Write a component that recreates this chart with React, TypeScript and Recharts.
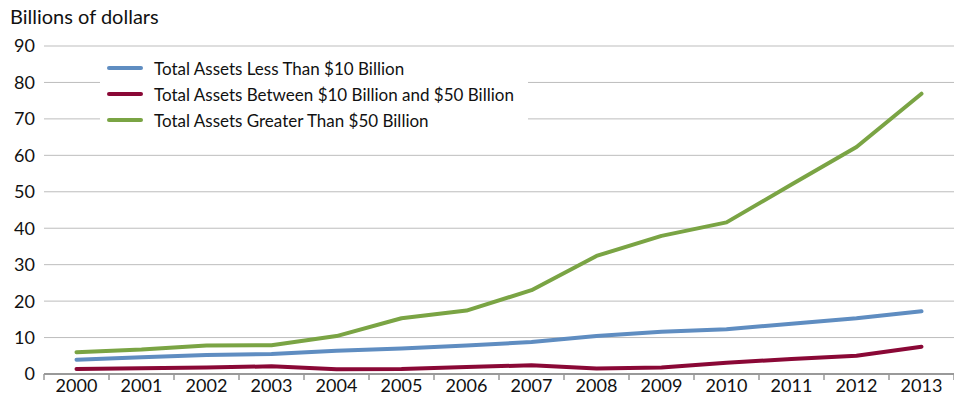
import { CartesianGrid, Line, LineChart, XAxis, YAxis } from 'recharts';

const YEARS = ['2000', '2001', '2002', '2003', '2004', '2005', '2006', '2007', '2008', '2009', '2010', '2011', '2012', '2013'];
const LESS_THAN_10 = [3.9, 4.6, 5.2, 5.5, 6.4, 7.0, 7.8, 8.8, 10.4, 11.6, 12.3, 13.8, 15.3, 17.2];
const BETWEEN_10_50 = [1.4, 1.6, 1.8, 2.1, 1.3, 1.4, 1.9, 2.4, 1.5, 1.8, 3.1, 4.1, 5.0, 7.5];
const GREATER_50 = [6.0, 6.7, 7.8, 7.9, 10.4, 15.3, 17.4, 23.0, 32.4, 37.9, 41.6, 52.0, 62.3, 76.9];
const Y_TICKS = [0, 10, 20, 30, 40, 50, 60, 70, 80, 90];

const SERIES = [
  { key: 'less', name: 'Total Assets Less Than $10 Billion', color: '#5f8dc1' },
  { key: 'between', name: 'Total Assets Between $10 Billion and $50 Billion', color: '#8a0836' },
  { key: 'greater', name: 'Total Assets Greater Than $50 Billion', color: '#7aa444' },
];

const rows = YEARS.map((year, i) => ({
  year,
  less: LESS_THAN_10[i],
  between: BETWEEN_10_50[i],
  greater: GREATER_50[i],
}));

const FONT = 'Lato, "Open Sans", sans-serif';
const HALF_STEP = 32.5;

function YearTick(props: any) {
  const { x, y, payload, index } = props;
  const last = index === YEARS.length - 1;
  return (
    <g>
      <line x1={x - HALF_STEP} y1={y} x2={x - HALF_STEP} y2={y + 6} stroke="#999" strokeWidth={1.5} />
      {last && <line x1={x + HALF_STEP} y1={y} x2={x + HALF_STEP} y2={y + 6} stroke="#999" strokeWidth={1.5} />}
      <text x={x} y={y + 18} textAnchor="middle" fill="#111" fontSize={18} fontFamily={FONT}>
        {payload.value}
      </text>
    </g>
  );
}

function LegendBox() {
  return (
    <div
      style={{
        position: 'absolute',
        left: 100,
        top: 55,
        background: '#fff',
        padding: '0 14px 0 7px',
        fontFamily: FONT,
        fontSize: 17,
        color: '#111',
      }}
    >
      {SERIES.map((s) => (
        <div key={s.key} style={{ display: 'flex', alignItems: 'center', height: 26 }}>
          <span style={{ display: 'inline-block', width: 36, height: 4, borderRadius: 2, background: s.color, marginRight: 11 }} />
          <span>{s.name}</span>
        </div>
      ))}
    </div>
  );
}

export default function App() {
  return (
    <div style={{ position: 'absolute', left: 0, top: 0, width: 954, height: 404, background: '#fff' }}>
      <div style={{ position: 'absolute', left: 10, top: 4, fontFamily: FONT, fontSize: 20, color: '#111' }}>
        Billions of dollars
      </div>
      <LineChart width={954} height={404} data={rows} margin={{ top: 46, right: 0, left: 0, bottom: 0 }}>
        <CartesianGrid horizontal vertical={false} stroke="#bdbdbd" strokeWidth={1} />
        <XAxis
          dataKey="year"
          height={30}
          padding={{ left: HALF_STEP, right: HALF_STEP }}
          tickLine={false}
          tickSize={0}
          tickMargin={0}
          axisLine={{ stroke: '#999', strokeWidth: 2 }}
          tick={<YearTick />}
          interval={0}
        />
        <YAxis
          width={44}
          domain={[0, 90]}
          ticks={Y_TICKS}
          tickLine={false}
          axisLine={false}
          tickSize={0}
          tickMargin={9}
          tick={{ fill: '#111', fontSize: 18, fontFamily: FONT }}
        />
        {SERIES.map((s) => (
          <Line
            key={s.key}
            dataKey={s.key}
            name={s.name}
            type="linear"
            stroke={s.color}
            strokeWidth={4}
            strokeLinecap="round"
            strokeLinejoin="round"
            dot={false}
            activeDot={false}
            isAnimationActive={false}
          />
        ))}
      </LineChart>
      <LegendBox />
    </div>
  );
}
